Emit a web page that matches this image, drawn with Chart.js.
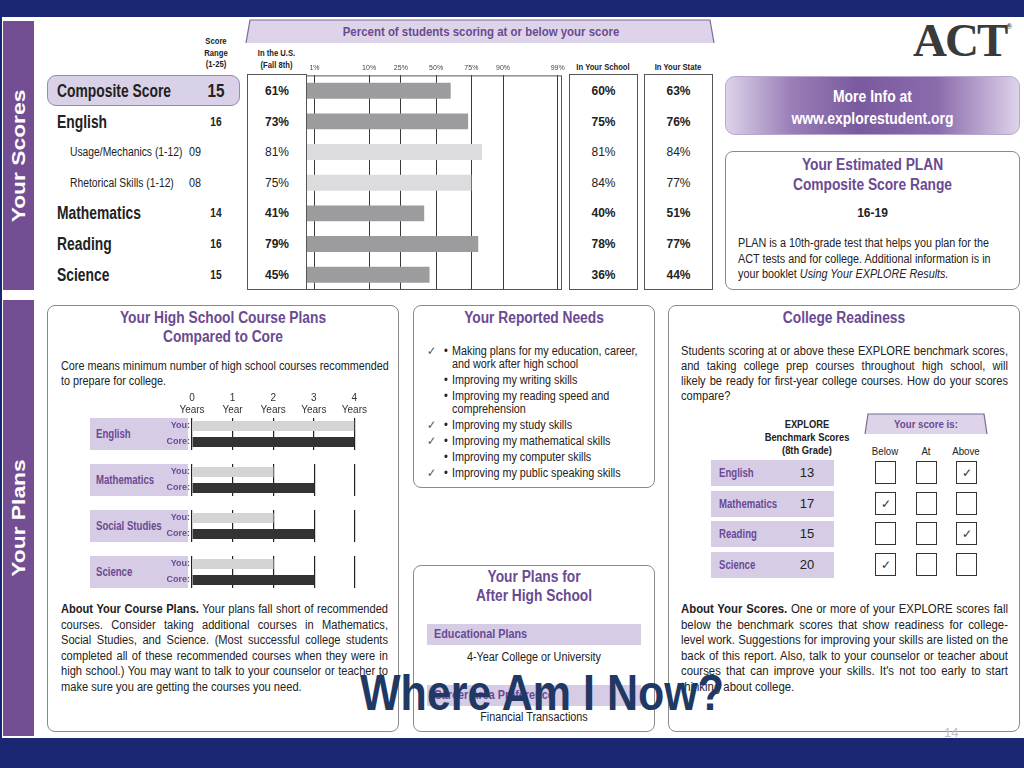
<!DOCTYPE html>
<html>
<head>
<meta charset="utf-8">
<script src="https://cdn.jsdelivr.net/npm/chart.js@4.4.1/dist/chart.umd.min.js"></script>
<style>
  body { margin: 0; width: 1024px; height: 768px; background: #1b2772; overflow: hidden; position: relative;
         font-family: "Liberation Sans", Arial, sans-serif; color: #222; }
  .a { position: absolute; }
  .s { transform: scaleX(var(--k, 0.9)); transform-origin: 0 0; white-space: nowrap; }
  #panel { left: 2px; top: 17px; width: 1022px; height: 721px; background: #fff; }
  .tab { background: #744e93; }
  .tab span { position: absolute; left: 50%; top: 50%; white-space: nowrap; color: #fff; font: bold 19px "Liberation Sans", sans-serif;
              transform: translate(-50%, -50%) rotate(-90deg) scaleX(1.2); }
  .box { border: 1px solid #8a8a8a; border-radius: 8px; background: #fff; box-sizing: border-box; }
  .col { border: 1px solid #555; box-sizing: border-box; }
  .hd { font-weight: bold; font-size: 9px; text-align: center; line-height: 11.5px; color: #222; --k: 0.85; }
  .ttl { color: #6a4a92; font-weight: bold; font-size: 16px; text-align: center; line-height: 19px; --k: 0.86; }
  .p { font-size: 12px; line-height: 15.5px; text-align: justify; color: #222; white-space: normal; --k: 0.925; }
  .p .ln { display: block; text-align: justify; text-align-last: justify; }
  .p .ln:last-child { text-align-last: left; }
  .strip { background: #d6cce6; }
  .pl { color: #6a4a92; font-weight: bold; }
  .cell { text-align: center; font-size: 12px; line-height: 14px; }
  .chk { border: 1px solid #333; box-sizing: border-box; width: 21px; height: 23px; text-align: center; line-height: 22px; font-size: 12px; color: #333; }
  #needs div { position: relative; font-size: 12px; line-height: 13px; margin-bottom: 3px; }
  #needs .ck { position: absolute; left: -28px; top: 0; color: #555; }
  #needs .bl { position: absolute; left: -9px; top: 0; }
</style>
</head>
<body>
<div class="a" id="panel"></div>
<div class="a tab" style="left:3px;top:21px;width:31px;height:269px"><span>Your Scores</span></div>
<div class="a tab" style="left:3px;top:300px;width:31px;height:436px"><span>Your Plans</span></div>

<!-- top: scores -->
<svg class="a" style="left:244px;top:18px" width="472" height="26">
  <polygon points="6,2 466,2 470,25 2,25" fill="#ddd4e9" />
  <polyline points="2,25 6,2 466,2 470,25" fill="none" stroke="#7d669c" stroke-width="1.2" />
</svg>
<div class="a s" style="--k:0.88;left:246px;top:24px;width:calc(470px / 0.88);text-align:center;color:#6a4a92;font-weight:bold;font-size:13px">Percent of students scoring at or below your score</div>
<div class="a hd s" style="left:191px;top:36px;width:calc(50px / 0.85)">Score<br>Range<br>(1-25)</div>
<div class="a hd s" style="left:247px;top:48px;width:calc(59px / 0.85)">In the U.S.<br>(Fall 8th)</div>
<div class="a hd s" style="left:566px;top:62px;width:calc(74px / 0.85)">In Your School</div>
<div class="a hd s" style="left:641px;top:62px;width:calc(74px / 0.85)">In Your State</div>

<div class="a" style="left:47px;top:75px;width:193px;height:31px;box-sizing:border-box;border-radius:9px;background:#d9d1e7;border:1px solid #9a88b3"></div>
<div class="a col" style="left:247px;top:74px;width:60px;height:216px"></div>
<div class="a col" style="left:569px;top:74px;width:69px;height:216px"></div>
<div class="a col" style="left:644px;top:74px;width:69px;height:216px"></div>
<div id="rows"></div>
<canvas class="a" id="pctChart" style="left:300px;top:61px"></canvas>

<!-- ACT logo and info -->
<div class="a" style="left:913px;top:13px;font:bold 47px 'Liberation Serif',serif;color:#3a3a3a;letter-spacing:-2px">ACT<span style="font-size:8px;position:relative;top:-27px;letter-spacing:0">®</span></div>
<div class="a" style="left:725px;top:76px;width:295px;height:59px;border-radius:10px;background:linear-gradient(90deg,#ddd3ea 0%,#9a7fb8 22%,#7a5a9e 45%,#8a6bab 72%,#ddd3ea 100%);border:1px solid #b8a8cc;box-sizing:border-box"></div>
<div class="a s" style="--k:0.82;left:725px;top:86px;width:calc(295px / 0.82);color:#fff;font-weight:bold;font-size:17px;line-height:22px;text-align:center">More Info at<br>www.explorestudent.org</div>
<div class="a box" style="left:725px;top:151px;width:295px;height:139px"></div>
<div class="a ttl s" style="left:725px;top:155px;width:calc(295px / 0.86);line-height:20px">Your Estimated PLAN<br>Composite Score Range</div>
<div class="a" style="left:725px;top:206px;width:295px;text-align:center;font-weight:bold;font-size:12px">16-19</div>
<div class="a p s" style="--k:0.9;left:738px;top:236px;width:calc(272px / 0.9);text-align:left">PLAN is a 10th-grade test that helps you plan for the ACT tests and for college. Additional information is in your booklet <i>Using Your EXPLORE Results.</i></div>

<!-- course plans -->
<div class="a box" style="left:47px;top:305px;width:352px;height:427px"></div>
<div class="a ttl s" style="left:47px;top:308px;width:calc(352px / 0.86)">Your High School Course Plans<br>Compared to Core</div>
<div class="a p s" style="--k:0.9;left:61px;top:359px;width:calc(328px / 0.9);line-height:14.5px;text-align:left">Core means minimum number of high school courses recommended to prepare for college.</div>
<div id="courses"></div>
<div class="a p s" style="left:61px;top:602px;width:calc(327px / 0.925)"><b>About Your Course Plans.</b> Your plans fall short of recommended courses. Consider taking additional courses in Mathematics, Social Studies, and Science. (Most successful college students completed all of these recommended courses when they were in high school.) You may want to talk to your counselor or teacher to make sure you are getting the courses you need.</div>

<!-- needs -->
<div class="a box" style="left:413px;top:305px;width:242px;height:183px"></div>
<div class="a ttl s" style="left:413px;top:308px;width:calc(242px / 0.86)">Your Reported Needs</div>
<div class="a s" id="needs" style="left:452px;top:345px;width:calc(200px / 0.9);white-space:normal"></div>

<!-- plans after high school -->
<div class="a box" style="left:413px;top:565px;width:242px;height:167px"></div>
<div class="a ttl s" style="left:413px;top:567px;width:calc(242px / 0.86)">Your Plans for<br>After High School</div>
<div class="a strip" style="left:427px;top:624px;width:214px;height:21px"></div>
<div class="a pl s" style="left:434px;top:624px;line-height:21px;font-size:12px">Educational Plans</div>
<div class="a s" style="left:413px;top:650px;width:calc(242px / 0.9);text-align:center;font-size:12px">4-Year College or University</div>
<div class="a strip" style="left:427px;top:685px;width:214px;height:21px"></div>
<div class="a pl s" style="left:434px;top:685px;line-height:21px;font-size:12px">Career Area Preference</div>
<div class="a s" style="left:413px;top:710px;width:calc(242px / 0.9);text-align:center;font-size:12px">Financial Transactions</div>

<!-- college readiness -->
<div class="a box" style="left:668px;top:305px;width:352px;height:427px"></div>
<div class="a ttl s" style="left:668px;top:308px;width:calc(352px / 0.86)">College Readiness</div>
<div class="a p s" style="left:681px;top:344px;width:calc(327px / 0.925);line-height:15px"><span class="ln">Students scoring at or above these EXPLORE benchmark scores,</span><span class="ln">and taking college prep courses throughout high school, will</span><span class="ln">likely be ready for first-year college courses. How do your scores</span><span class="ln">compare?</span></div>
<div class="a s" style="--k:0.85;left:752px;top:418px;width:calc(110px / 0.85);text-align:center;font-weight:bold;font-size:11px;line-height:13px">EXPLORE<br>Benchmark Scores<br>(8th Grade)</div>
<svg class="a" style="left:864px;top:413px" width="124" height="22">
  <polygon points="4,1 120,1 123,21 1,21" fill="#ddd4e9" />
  <polyline points="1,21 4,1 120,1 123,21" fill="none" stroke="#7d669c" stroke-width="1.2" />
</svg>
<div class="a pl s" style="--k:0.88;left:864px;top:418px;width:calc(124px / 0.88);text-align:center;font-size:11px">Your score is:</div>
<div id="ready"></div>
<div class="a p s" style="--k:0.948;left:681px;top:602px;width:calc(327px / 0.948)"><b>About Your Scores.</b> One or more of your EXPLORE scores fall below the benchmark scores that show readiness for college-level work. Suggestions for improving your skills are listed on the back of this report. Also, talk to your counselor or teacher about courses that can improve your skills. It's not too early to start thinking about college.</div>

<div class="a" style="left:240px;top:664px;width:604px;text-align:center;font:bold 50px 'Liberation Sans',sans-serif;color:#1f3864;transform:scaleX(0.86);white-space:nowrap">Where Am I Now?</div>
<div class="a" style="left:944px;top:725px;font:13px 'Liberation Sans',sans-serif;color:#c0c0c0">14</div>

<script>
// top section: percent of students scoring at or below
const scoreRows = ['Composite Score', 'English', 'Usage/Mechanics (1-12)', 'Rhetorical Skills (1-12)', 'Mathematics', 'Reading', 'Science'];
const scoreValues = ['15', '16', '09', '08', '14', '16', '15'];
const usPercent = [61, 73, 81, 75, 41, 79, 45];
const schoolPercent = [60, 75, 81, 84, 40, 78, 36];
const statePercent = [63, 76, 84, 77, 51, 77, 44];
const percentTicks = [1, 10, 25, 50, 75, 90, 99];

// course plans (years)
const courseSubjects = ['English', 'Mathematics', 'Social Studies', 'Science'];
const youYears = [4, 2, 2, 2];
const coreYears = [4, 3, 3, 3];
const yearTickLabels = [['0', 'Years'], ['1', 'Year'], ['2', 'Years'], ['3', 'Years'], ['4', 'Years']];

// reported needs
const needs = ['Making plans for my education, career, and work after high school', 'Improving my writing skills',
  'Improving my reading speed and comprehension', 'Improving my study skills', 'Improving my mathematical skills',
  'Improving my computer skills', 'Improving my public speaking skills'];
const needsChecked = [true, false, false, true, true, false, true];

// college readiness
const benchSubjects = ['English', 'Mathematics', 'Reading', 'Science'];
const benchScores = [13, 17, 15, 20];
const benchResult = ['Above', 'Below', 'Above', 'Below'];
const resultCols = ['Below', 'At', 'Above'];

const purple = '#6a4a92';
const isSub = (label) => label.indexOf('(1-12)') >= 0;

function el(parent, style, html, cls) {
  const d = document.createElement('div');
  d.className = 'a' + (cls ? ' ' + cls : '');
  d.style.cssText = style;
  d.innerHTML = html;
  parent.appendChild(d);
  return d;
}

// score table text
const rows = document.getElementById('rows');
scoreRows.forEach((label, i) => {
  const cy = 91 + i * 30.6;
  const sub = isSub(label);
  if (sub) {
    el(rows, `--k:0.86;left:70px;top:${cy - 8}px;font-size:12px;line-height:16px`, label, 's');
    el(rows, `--k:0.9;left:189px;top:${cy - 8}px;font-size:12px;line-height:16px`, scoreValues[i], 's');
  } else {
    el(rows, `--k:0.77;left:57px;top:${cy - 12}px;font-size:18px;font-weight:bold;line-height:24px`, label, 's');
    const fs = i === 0 ? 18 : 12;
    el(rows, `--k:0.85;left:196px;width:calc(40px / 0.85);text-align:center;top:${cy - 12}px;font-size:${fs}px;font-weight:bold;line-height:24px`, scoreValues[i], 's');
  }
  const w = sub ? 'normal' : 'bold';
  el(rows, `left:247px;width:60px;top:${cy - 7}px;font-weight:${w}`, usPercent[i] + '%', 'cell');
  el(rows, `left:569px;width:69px;top:${cy - 7}px;font-weight:${w}`, schoolPercent[i] + '%', 'cell');
  el(rows, `left:644px;width:69px;top:${cy - 7}px;font-weight:${w}`, statePercent[i] + '%', 'cell');
});

// inverse normal cdf (Acklam) for the percentile scale
function normInv(p) {
  const a = [-39.69683028665376, 220.9460984245205, -275.9285104469687, 138.3577518672690, -30.66479806614716, 2.506628277459239];
  const b = [-54.47609879822406, 161.5858368580409, -155.6989798598866, 66.80131188771972, -13.28068155288572];
  const c = [-0.007784894002430293, -0.3223964580411365, -2.400758277161838, -2.549732539343734, 4.374664141464968, 2.938163982698783];
  const d = [0.007784695709041462, 0.3224671290700398, 2.445134137142996, 3.754408661907416];
  const pl = 0.02425;
  let q, r;
  if (p < pl) {
    q = Math.sqrt(-2 * Math.log(p));
    return (((((c[0] * q + c[1]) * q + c[2]) * q + c[3]) * q + c[4]) * q + c[5]) / ((((d[0] * q + d[1]) * q + d[2]) * q + d[3]) * q + 1);
  }
  if (p > 1 - pl) {
    q = Math.sqrt(-2 * Math.log(1 - p));
    return -(((((c[0] * q + c[1]) * q + c[2]) * q + c[3]) * q + c[4]) * q + c[5]) / ((((d[0] * q + d[1]) * q + d[2]) * q + d[3]) * q + 1);
  }
  q = p - 0.5; r = q * q;
  return (((((a[0] * r + a[1]) * r + a[2]) * r + a[3]) * r + a[4]) * r + a[5]) * q / (((((b[0] * r + b[1]) * r + b[2]) * r + b[3]) * r + b[4]) * r + 1);
}

class ProbitScale extends Chart.LinearScale {
  buildTicks() {
    return percentTicks.map(v => ({ value: v }));
  }
  getPixelForValue(value) {
    const lo = normInv(this.min / 100), hi = normInv(this.max / 100);
    let z = value <= this.min ? lo : (value >= this.max ? hi : normInv(value / 100));
    return this.left + (z - lo) / (hi - lo) * this.width;
  }
}
ProbitScale.id = 'probit';
ProbitScale.defaults = Chart.LinearScale.defaults;
Chart.register(ProbitScale);

Chart.defaults.font.family = '"Liberation Sans", Arial, sans-serif';

// frame round the chart area
const framePlugin = {
  id: 'frame',
  afterDraw(chart) {
    const { ctx, chartArea: a } = chart;
    ctx.save();
    ctx.strokeStyle = '#555';
    ctx.lineWidth = 1;
    ctx.strokeRect(a.left + 0.5, a.top + 0.5, a.right - a.left - 1, a.bottom - a.top - 1);
    ctx.restore();
  }
};

const pctCanvas = document.getElementById('pctChart');
pctCanvas.width = 270; pctCanvas.height = 229;
pctCanvas.style.width = '270px'; pctCanvas.style.height = '229px';
new Chart(pctCanvas, {
  type: 'bar',
  data: {
    labels: scoreRows,
    datasets: [{
      data: usPercent,
      backgroundColor: scoreRows.map(l => isSub(l) ? '#dcdcde' : '#9c9c9f'),
      barPercentage: 0.52,
      categoryPercentage: 1
    }]
  },
  options: {
    indexAxis: 'y',
    responsive: false,
    animation: false,
    events: [],
    layout: { padding: { left: 6, right: 8 } },
    plugins: { legend: { display: false }, tooltip: { enabled: false } },
    scales: {
      x: {
        type: 'probit', position: 'top', min: 0.64, max: 99.2, z: 1,
        grid: { color: '#3a3a3a', lineWidth: 1, drawTicks: false },
        border: { display: false },
        ticks: { callback: v => v + '%', font: { size: 7 }, color: '#444', padding: 3, autoSkip: false, maxRotation: 0 }
      },
      y: { display: false }
    }
  },
  plugins: [framePlugin]
});

// course plans: one small chart per subject
// y tick labels are 10px high with 2px padding, so the axis asks for 7px above and below the bars
const labelPad = 7;
const courses = document.getElementById('courses');
courseSubjects.forEach((name, i) => {
  const top = 418 + i * 46;
  el(courses, `left:90px;top:${top}px;width:98px;height:32px`, '', 'strip');
  el(courses, `--k:0.8;left:96px;top:${top}px;height:32px;line-height:32px;font-size:12px`, name, 'pl s');
  const first = i === 0;
  const axisH = first ? 28 : labelPad;
  const h = axisH + 32 + labelPad;
  const cv = document.createElement('canvas');
  cv.className = 'a';
  cv.width = 227; cv.height = h;
  cv.style.cssText = `left:142px;top:${top - axisH}px;width:227px;height:${h}px`;
  courses.appendChild(cv);
  new Chart(cv, {
    type: 'bar',
    data: {
      labels: ['You:', 'Core:'],
      datasets: [{
        data: [youYears[i], coreYears[i]],
        backgroundColor: ['#d3d4d6', '#333333'],
        barPercentage: 0.64,
        categoryPercentage: 1
      }]
    },
    options: {
      indexAxis: 'y',
      responsive: false,
      animation: false,
      events: [],
      layout: { padding: { right: 14 } },
      plugins: { legend: { display: false }, tooltip: { enabled: false } },
      scales: {
        x: {
          min: 0, max: 4, position: 'top', z: 1,
          grid: { color: '#222', lineWidth: 1.2, drawTicks: false },
          border: { display: false },
          ticks: { display: first, stepSize: 1, callback: v => yearTickLabels[v], font: { size: 10, lineHeight: 1.2 }, color: '#333', padding: 2, maxRotation: 0 }
        },
        y: {
          grid: { display: false, drawTicks: false },
          border: { display: false },
          ticks: { color: purple, font: { size: 9, weight: 'bold', lineHeight: 1.112 }, padding: 2 },
          afterFit: s => { s.width = 50; }
        }
      }
    }
  });
});

// reported needs list
const needsBox = document.getElementById('needs');
needs.forEach((t, i) => {
  const d = document.createElement('div');
  d.innerHTML = (needsChecked[i] ? '<span class="ck">✓</span>' : '') + '<span class="bl">•</span>' + t;
  needsBox.appendChild(d);
});

// college readiness table
const ready = document.getElementById('ready');
resultCols.forEach((c, j) => {
  el(ready, `--k:0.88;left:${865 + j * 40.5}px;top:445px;width:calc(40px / 0.88);text-align:center;font-size:11px`, c, 's');
});
benchSubjects.forEach((s, i) => {
  const top = 460 + i * 30.7;
  el(ready, `left:711px;top:${top}px;width:123px;height:26px`, '', 'strip');
  el(ready, `--k:0.8;left:719px;top:${top}px;line-height:26px;font-size:12px`, s, 'pl s');
  el(ready, `left:787px;top:${top}px;width:40px;text-align:center;line-height:26px;font-size:13px`, benchScores[i]);
  resultCols.forEach((c, j) => {
    el(ready, `left:${875 + j * 40.5}px;top:${top + 1}px`, benchResult[i] === c ? '✓' : '', 'chk');
  });
});
</script>
</body>
</html>
